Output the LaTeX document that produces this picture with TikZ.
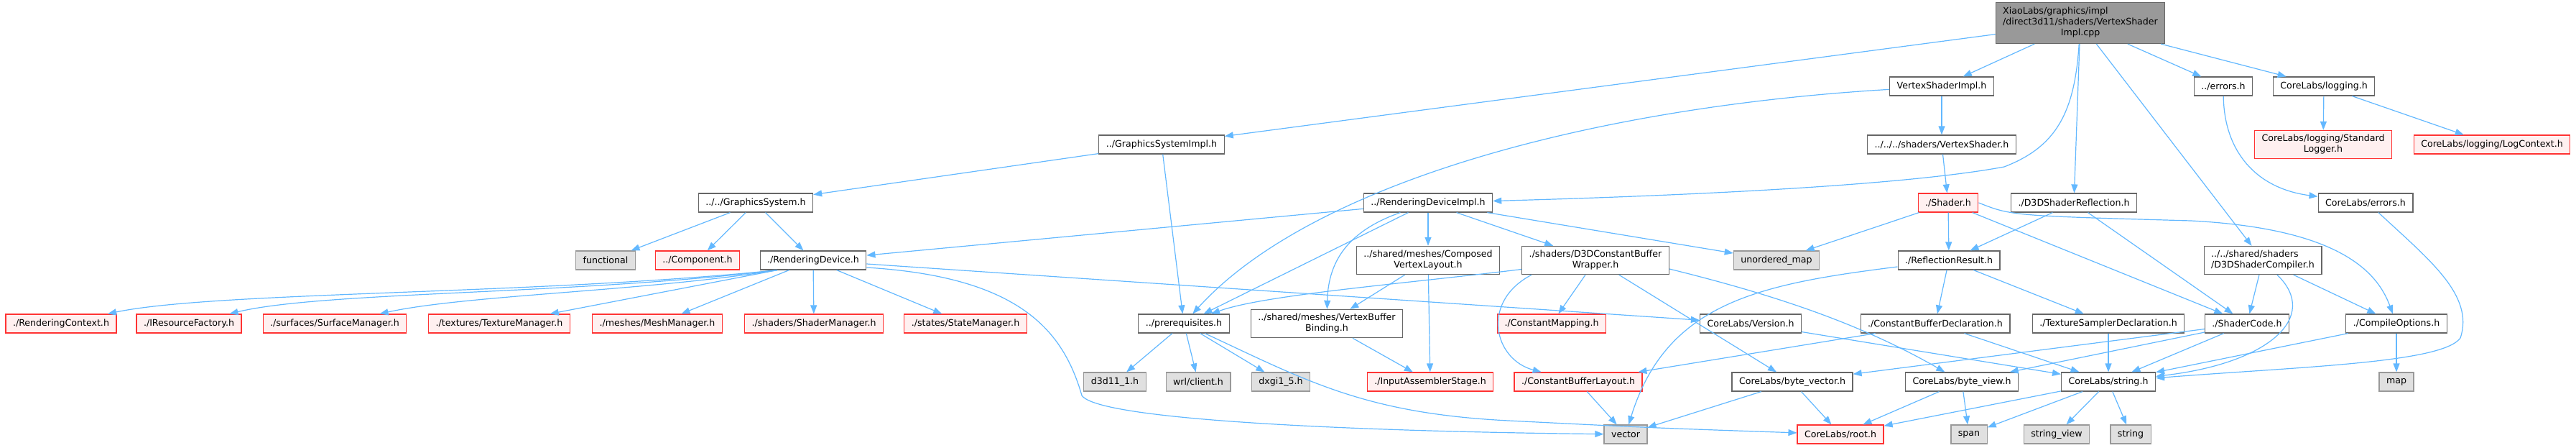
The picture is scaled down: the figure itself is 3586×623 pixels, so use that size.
\documentclass[tikz,border=0pt]{standalone}
\usepackage{fontspec}
\setmainfont{DejaVu Sans}
\usepackage{tikz}
\usetikzlibrary{arrows.meta,positioning}
\usepackage{xcolor}
\definecolor{depblue}{HTML}{63B8FF}
\definecolor{boxline}{HTML}{666666}
\definecolor{sysline}{HTML}{999999}
\definecolor{sysfill}{HTML}{E0E0E0}
\definecolor{redline}{HTML}{FF3333}
\definecolor{redfill}{HTML}{FFF0F0}
\definecolor{srcfill}{HTML}{999999}

\begin{document}
\begin{tikzpicture}[x=1pt, y=-1pt,
        hdr/.style={draw=boxline, fill=white, line width=1.2pt, inner xsep=10pt, inner ysep=6pt, minimum height=26pt, align=center, font=\fontsize{12.6}{15}\selectfont},
        missing/.style={hdr, draw=redline, fill=redfill},
        sys/.style={hdr, draw=sysline, fill=sysfill},
        src/.style={hdr, fill=srcfill},
        dep/.style={-{Triangle[length=12pt,width=9pt]}, draw=depblue, line width=1.2pt}
    ]
    \useasboundingbox (0,0) rectangle (3586,623);
    % top
    \node[src] (root) at (2896,32) {\begin{tabular}{@{}l@{}}XiaoLabs/graphics/impl\\/direct3d11/shaders/VertexShader\\\multicolumn{1}{@{}c@{}}{Impl.cpp}\end{tabular}};
    \node[hdr] (gsi) at (1617,201) {../GraphicsSystemImpl.h};
    \node[hdr] (vsi) at (2703,120) {VertexShaderImpl.h};
    \node[hdr] (errs) at (3095,120) {../errors.h};
    \node[hdr] (logging) at (3235,120) {CoreLabs/logging.h};
    \node[hdr] (vsh) at (2703,201) {../../../shaders/VertexShader.h};
    \node[missing] (stdlog) at (3234,201) {CoreLabs/logging/Standard\\Logger.h};
    \node[missing] (logctx) at (3469,201) {CoreLabs/logging/LogContext.h};
    \node[hdr] (gs) at (1052,282) {../../GraphicsSystem.h};
    \node[hdr] (rdi) at (1988,282) {../RenderingDeviceImpl.h};
    \node[missing] (shader) at (2712,282) {./Shader.h};
    \node[hdr] (d3dref) at (2887,282) {./D3DShaderReflection.h};
    \node[hdr] (cerrs) at (3293,282) {CoreLabs/errors.h};
    % middle
    \node[sys] (functional) at (843,362) {functional};
    \node[missing] (component) at (971,362) {../Component.h};
    \node[hdr] (rdev) at (1132,362) {./RenderingDevice.h};
    \node[hdr] (cvl) at (1988,362) {../shared/meshes/Composed\\VertexLayout.h};
    \node[hdr] (wrapper) at (2221,362) {./shaders/D3DConstantBuffer\\Wrapper.h};
    \node[sys] (umap) at (2473,362) {unordered\_map};
    \node[hdr] (reflres) at (2713,362) {./ReflectionResult.h};
    \node[hdr, align=left] (compiler) at (3150,362) {../../shared/shaders\\/D3DShaderCompiler.h};
    \node[missing] (rctx) at (85,450) {./RenderingContext.h};
    \node[missing] (irf) at (263,450) {./IResourceFactory.h};
    \node[missing] (surf) at (466,450) {./surfaces/SurfaceManager.h};
    \node[missing] (tex) at (695,450) {./textures/TextureManager.h};
    \node[missing] (mesh) at (915,450) {./meshes/MeshManager.h};
    \node[missing] (shmgr) at (1133,450) {./shaders/ShaderManager.h};
    \node[missing] (states) at (1344,450) {./states/StateManager.h};
    \node[hdr] (prereq) at (1648,450) {../prerequisites.h};
    \node[hdr] (vbb) at (1847,450) {../shared/meshes/VertexBuffer\\Binding.h};
    \node[missing] (cmap) at (2160,450) {./ConstantMapping.h};
    \node[hdr] (version) at (2437,450) {CoreLabs/Version.h};
    \node[hdr] (cbdecl) at (2694,450) {./ConstantBufferDeclaration.h};
    \node[hdr] (tsdecl) at (2935,450) {./TextureSamplerDeclaration.h};
    \node[hdr] (shcode) at (3128,450) {./ShaderCode.h};
    \node[hdr] (compopts) at (3336,450) {./CompileOptions.h};
    % bottom
    \node[sys] (d3d11) at (1552,531) {d3d11\_1.h};
    \node[sys] (wrl) at (1668,531) {wrl/client.h};
    \node[sys] (dxgi) at (1783,531) {dxgi1\_5.h};
    \node[missing] (ias) at (1991,531) {./InputAssemblerStage.h};
    \node[missing] (cbl) at (2197,531) {./ConstantBufferLayout.h};
    \node[hdr] (bvec) at (2495,531) {CoreLabs/byte\_vector.h};
    \node[hdr] (bview) at (2731,531) {CoreLabs/byte\_view.h};
    \node[hdr] (strh) at (2935,531) {CoreLabs/string.h};
    \node[sys] (map) at (3336,531) {map};
    \node[sys] (vector) at (2263,604) {vector};
    \node[missing] (rooth) at (2562,604) {CoreLabs/root.h};
    \node[sys] (span) at (2741,604) {span};
    \node[sys] (strview) at (2863,604) {string\_view};
    \node[sys] (stdstr) at (2966,604) {string};
    % includes of the source file
    \draw[dep] (root) -- (gsi);
    \draw[dep] (root) -- (vsi);
    \draw[dep] (root) .. controls (2888,160) and (2860,205) .. (2790,232) .. controls (2650,258) and (2350,272) .. (rdi);
    \draw[dep] (root) -- (d3dref);
    \draw[dep] (root) -- (compiler);
    \draw[dep] (root) -- (errs);
    \draw[dep] (root) -- (logging);
    \draw[dep] (vsi) -- (vsh);
    \draw[dep] (vsi) .. controls (2200,150) and (1820,260) .. (prereq);
    \draw[dep] (gsi) -- (gs);
    \draw[dep] (gsi) -- (prereq);
    \draw[dep] (gs) -- (functional);
    \draw[dep] (gs) -- (component);
    \draw[dep] (gs) -- (rdev);
    \draw[dep] (rdi) -- (rdev);
    \draw[dep] (rdi) -- (prereq);
    \draw[dep] (rdi) .. controls (1880,320) and (1849,360) .. (vbb);
    \draw[dep] (rdi) -- (cvl);
    \draw[dep] (rdi) -- (wrapper);
    \draw[dep] (rdi) -- (umap);
    % RenderingDevice.h
    \draw[dep] ([xshift=-50pt]rdev.south) .. controls (750,410) and (300,405) .. (rctx);
    \draw[dep] ([xshift=-50pt]rdev.south) .. controls (800,410) and (450,405) .. (irf);
    \draw[dep] ([xshift=-50pt]rdev.south) .. controls (900,405) and (650,410) .. (surf);
    \draw[dep] ([xshift=-50pt]rdev.south) -- (tex);
    \draw[dep] (rdev) -- (mesh);
    \draw[dep] (rdev) -- (shmgr);
    \draw[dep] (rdev) -- (states);
    \draw[dep] (rdev) -- (version);
    \draw[dep] ([yshift=-10pt]rdev.east) .. controls (1420,385) and (1480,460) .. (1506,550) .. controls (1530,585) and (1900,600) .. (vector);
    % prerequisites and meshes
    \draw[dep] (prereq) -- (d3d11);
    \draw[dep] (prereq) -- (wrl);
    \draw[dep] (prereq) -- (dxgi);
    \draw[dep] (prereq) .. controls (1820,530) and (1900,575) .. (2100,585) .. controls (2300,595) .. (rooth);
    \draw[dep] (cvl) -- (vbb);
    \draw[dep] (cvl) -- (ias);
    \draw[dep] (vbb) -- (ias);
    % constant buffer wrapper
    \draw[dep] (wrapper) .. controls (1950,395) and (1760,410) .. (prereq);
    \draw[dep] (wrapper) -- (cmap);
    \draw[dep] ([xshift=-89pt]wrapper.south) .. controls (2060,420) and (2080,500) .. (cbl);
    \draw[dep] (wrapper) -- (bvec);
    \draw[dep] ([yshift=-12pt]wrapper.east) .. controls (2470,410) and (2590,450) .. (bview);
    \draw[dep] (cbl) -- (vector);
    \draw[dep] (version) -- (strh);
    % shaders
    \draw[dep] (vsh) -- (shader);
    \draw[dep] (shader) -- (umap);
    \draw[dep] (shader) -- (reflres);
    \draw[dep] (shader) -- (shcode);
    \draw[dep] (shader.east) .. controls (2800,300) .. (3050,307) .. controls (3260,318) and (3310,380) .. (compopts);
    \draw[dep] (d3dref) -- (reflres);
    \draw[dep] (d3dref) -- (shcode);
    \draw[dep] (reflres) .. controls (2450,395) and (2320,420) .. (vector);
    \draw[dep] (reflres) -- (cbdecl);
    \draw[dep] (reflres) -- (tsdecl);
    \draw[dep] (cbdecl) -- (cbl);
    \draw[dep] (cbdecl) -- (strh);
    \draw[dep] (tsdecl) -- (strh);
    \draw[dep] (shcode) -- (bvec);
    \draw[dep] (shcode) -- (bview);
    \draw[dep] (shcode) -- (strh);
    \draw[dep] (compopts) -- (strh);
    \draw[dep] (compopts) -- (map);
    \draw[dep] (compiler) -- (shcode);
    \draw[dep] (compiler) -- (compopts);
    \draw[dep] ([xshift=20pt]compiler.south) .. controls (3230,440) and (3160,505) .. (strh);
    % errors and logging
    \draw[dep] (errs) .. controls (3096,210) and (3140,262) .. (cerrs);
    \draw[dep] ([xshift=18pt]cerrs.south) .. controls (3380,360) and (3445,410) .. (3425,470) .. controls (3400,505) and (3200,510) .. (strh);
    \draw[dep] (logging) -- (stdlog);
    \draw[dep] (logging) -- (logctx);
    % CoreLabs leaves
    \draw[dep] (bvec) -- (vector);
    \draw[dep] (bvec) -- (rooth);
    \draw[dep] (bview) -- (rooth);
    \draw[dep] (bview) -- (span);
    \draw[dep] (strh) -- (rooth);
    \draw[dep] (strh) -- (span);
    \draw[dep] (strh) -- (strview);
    \draw[dep] (strh) -- (stdstr);
\end{tikzpicture}
\end{document}
